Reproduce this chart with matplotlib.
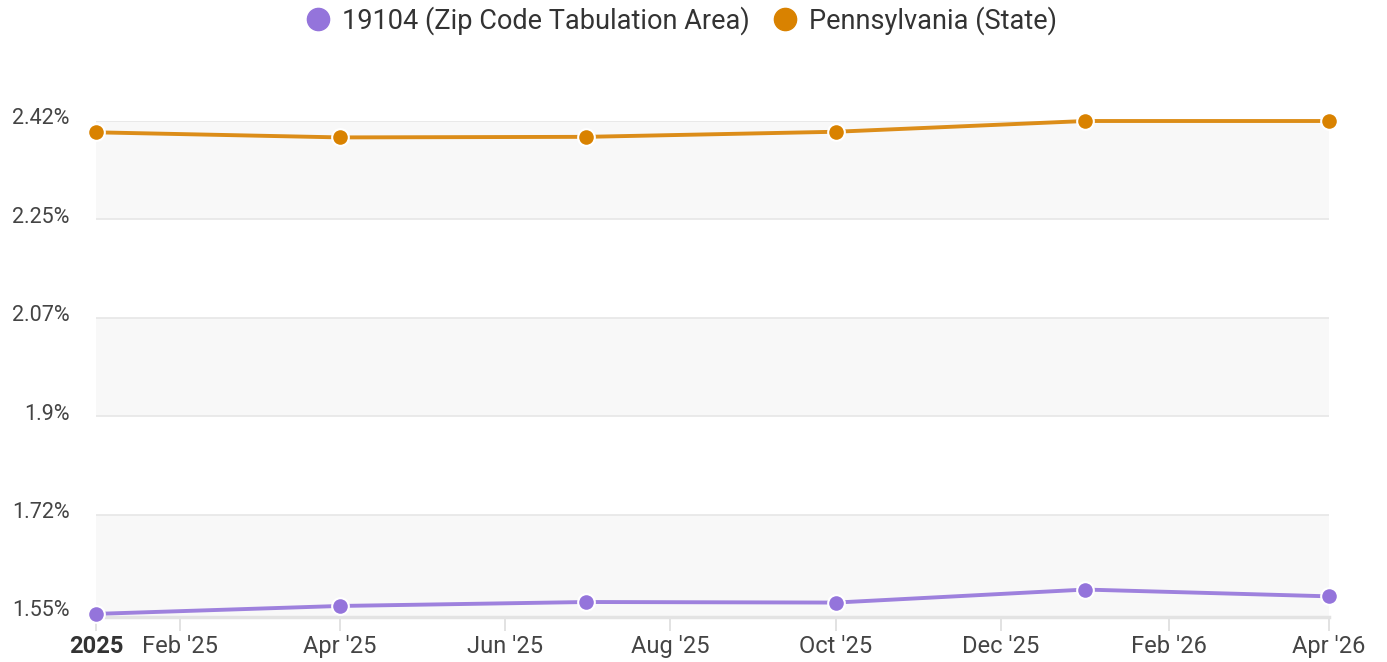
import numpy as np
import pandas as pd
import matplotlib
matplotlib.use("Agg")
import matplotlib.pyplot as plt
import matplotlib.transforms as mtransforms
from matplotlib.lines import Line2D

plt.rcParams['font.family'] = ['Roboto', 'DejaVu Sans']

dates = pd.to_datetime(['2025-01-01', '2025-04-01', '2025-07-01',
                        '2025-10-01', '2026-01-01', '2026-04-01'])
zip_vals = [1.549, 1.563, 1.570, 1.569, 1.592, 1.580]
pa_vals = [2.400, 2.391, 2.392, 2.401, 2.420, 2.420]

series_names = ['19104 (Zip Code Tabulation Area)', 'Pennsylvania (State)']
colors = ['#9474db', '#d98200']

y_ticks = [1.55, 1.724, 1.898, 2.072, 2.246, 2.42]
y_labels = ['1.55%', '1.72%', '1.9%', '2.07%', '2.25%', '2.42%']

x_ticks = pd.to_datetime(['2025-01-01', '2025-02-01', '2025-04-01', '2025-06-01',
                          '2025-08-01', '2025-10-01', '2025-12-01', '2026-02-01',
                          '2026-04-01'])
x_labels = ['2025', "Feb '25", "Apr '25", "Jun '25", "Aug '25", "Oct '25",
            "Dec '25", "Feb '26", "Apr '26"]

fig = plt.figure(figsize=(13.87, 6.62), dpi=100)
ax = fig.add_axes([96 / 1387, 1 - 617 / 662, (1329 - 96) / 1387, (617 - 121) / 662])

ax.set_xlim(dates[0], dates[-1])
ax.set_ylim(1.5435, 2.42)

# alternating bands
for i in range(len(y_ticks) - 1):
    if i % 2 == 0:
        lo = ax.get_ylim()[0] if i == 0 else y_ticks[i]
        ax.axhspan(lo, y_ticks[i + 1], color='#f8f8f8', zorder=0, lw=0)
for t in y_ticks[1:]:
    ax.axhline(t, color='#e6e6e6', lw=1.2, zorder=1)

for vals, c in zip([zip_vals, pa_vals], colors):
    ax.plot(dates, vals, color=c, lw=2.8, zorder=3, clip_on=False, alpha=0.9)
    ax.plot(dates, vals, 'o', color=c, ms=12, mec='white', mew=1.5,
            zorder=4, clip_on=False)

for s in ['top', 'right', 'left']:
    ax.spines[s].set_visible(False)
ax.spines['bottom'].set_color('#e3e3e3')
ax.spines['bottom'].set_linewidth(2.5)

ax.set_yticks(y_ticks)
ax.set_yticklabels(y_labels)
ax.tick_params(axis='y', length=0, pad=19, labelsize=15.5, labelcolor='#444444')
shift = mtransforms.ScaledTranslation(0, 3.5 / 72, fig.dpi_scale_trans)
for lab in ax.get_yticklabels():
    lab.set_transform(lab.get_transform() + shift)

ax.set_xticks(x_ticks)
ax.set_xticklabels(x_labels)
ax.tick_params(axis='x', length=10, width=1.2, color='#dddddd', pad=3,
               labelsize=17, labelcolor='#444444')
ax.get_xticklabels()[0].set_fontweight('bold')
ax.get_xticklabels()[0].set_color('#333333')

handles = [Line2D([], [], marker='o', ls='', color=c, ms=16) for c in colors]
fig.legend(handles, series_names, loc='upper center', bbox_to_anchor=(0.486, 1.028),
           ncol=2, frameon=False, fontsize=19.5, handletextpad=-0.1,
           columnspacing=0.3, labelcolor='#333333')

fig.savefig('out.png', dpi=100)
